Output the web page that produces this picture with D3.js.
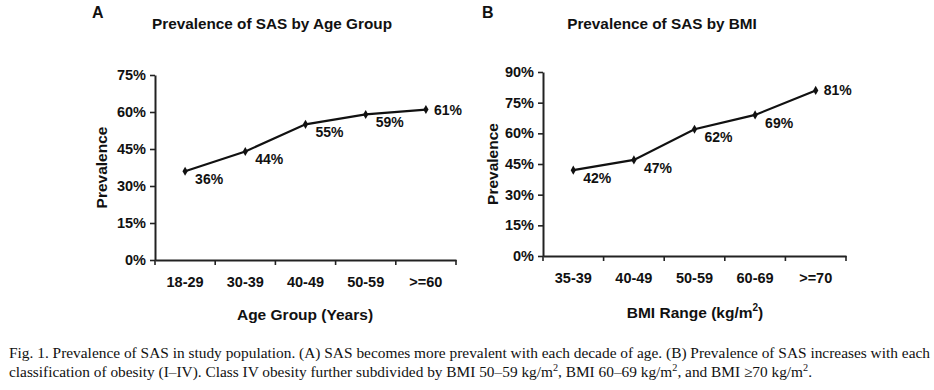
<!DOCTYPE html>
<html><head><meta charset="utf-8">
<script src="https://cdn.jsdelivr.net/npm/d3@7"></script>
<style>
body{margin:0;background:#fff;}
svg text{font-family:"Liberation Sans",Arial,sans-serif;font-weight:bold;fill:#111;}
</style></head>
<body><svg id="c" width="934" height="390"></svg>
<script>
const ageGroups = ["18-29","30-39","40-49","50-59",">=60"];
const ageValues = [36,44,55,59,61];
const ageTicks = [0,15,30,45,60,75];
const bmiGroups = ["35-39","40-49","50-59","60-69",">=70"];
const bmiValues = [42,47,62,69,81];
const bmiTicks = [0,15,30,45,60,75,90];

const svg = d3.select("#c");

function panel(o){
  const g = svg.append("g");
  const x = d3.scaleBand().domain(o.cats).range([o.x0,o.x1]);
  const y = d3.scaleLinear().domain([0,o.ymax]).range([o.y0,o.y1]);
  // y axis
  const ya = g.append("g").attr("transform",`translate(${o.x0},0)`)
    .call(d3.axisLeft(y).tickValues(o.ticks).tickFormat(d=>d+"%").tickSize(5).tickSizeOuter(0).tickPadding(4));
  ya.select(".domain").attr("stroke","#222").attr("stroke-width",2);
  ya.selectAll(".tick line").attr("stroke","#222").attr("stroke-width",1.6);
  ya.selectAll(".tick text").attr("font-size",14.5).attr("font-family","Liberation Sans, Arial, sans-serif").attr("font-weight","bold").attr("fill","#111");
  // x axis
  const xa = g.append("g").attr("transform",`translate(0,${o.y0})`)
    .call(d3.axisBottom(x).tickSize(0).tickPadding(17));
  xa.select(".domain").attr("stroke","#222").attr("stroke-width",2);
  xa.selectAll(".tick text").attr("font-size",14.5).attr("font-family","Liberation Sans, Arial, sans-serif").attr("font-weight","bold").attr("fill","#111");
  // x boundary ticks
  const bounds = o.cats.map(c=>x(c)).concat([x(o.cats[o.cats.length-1])+x.bandwidth()]);
  g.selectAll(".bt").data(bounds).enter().append("line")
    .attr("x1",d=>d).attr("x2",d=>d).attr("y1",o.y0).attr("y2",o.y0+5)
    .attr("stroke","#222").attr("stroke-width",1.6);
  // line
  const pts = o.cats.map((c,i)=>[x(c)+x.bandwidth()/2, y(o.vals[i])]);
  g.append("path").attr("d",d3.line()(pts)).attr("fill","none").attr("stroke","#111").attr("stroke-width",2.2);
  g.selectAll(".m").data(pts).enter().append("path")
    .attr("d",d3.symbol(d3.symbolDiamond,24)())
    .attr("transform",d=>`translate(${d[0]},${d[1]})`).attr("fill","#111");
  // labels
  g.selectAll(".lb").data(pts).enter().append("text")
    .attr("x",(d,i)=>i===pts.length-1? d[0]+8 : d[0]+10)
    .attr("y",(d,i)=>i===pts.length-1? d[1]+5 : d[1]+13)
    .attr("font-size",14).text((d,i)=>o.vals[i]+"%");
  // titles
  g.append("text").attr("x",o.tx).attr("y",o.ty).attr("text-anchor","middle").attr("font-size",15.3).text(o.title);
  g.append("text").attr("x",o.lx).attr("y",18).attr("font-size",16).attr("font-weight","normal").text(o.letter);
  g.append("text").attr("transform",`translate(${o.ytx},${(o.y0+o.y1)/2}) rotate(-90)`).attr("text-anchor","middle").attr("font-size",15.5).text("Prevalence");
  const xt = g.append("text").attr("x",o.xtx).attr("y",o.xty).attr("text-anchor","middle").attr("font-size",15.5);
  o.xtitle(xt);
}

panel({cats:ageGroups, vals:ageValues, ticks:ageTicks, ymax:75,
  x0:155, x1:456, y0:260, y1:75, tx:272, ty:29, lx:92, letter:"A", ytx:107, xty:320, xtx:305,
  title:"Prevalence of SAS by Age Group",
  xtitle:t=>t.text("Age Group (Years)")});
panel({cats:bmiGroups, vals:bmiValues, ticks:bmiTicks, ymax:90,
  x0:543, x1:846, y0:256, y1:72, tx:662, ty:29, lx:482, letter:"B", ytx:498, xty:318, xtx:695,
  title:"Prevalence of SAS by BMI",
  xtitle:t=>{t.append("tspan").text("BMI Range (kg/m"); t.append("tspan").attr("font-size",10).attr("dy",-7).text("2"); t.append("tspan").attr("dy",7).text(")");}});

// caption
const cap = svg.append("g");
cap.append("text").attr("x",9).attr("y",358).attr("font-size",15)
  .style("font-family","Liberation Serif, Times New Roman, serif").style("font-weight","normal")
  .attr("textLength",921).attr("lengthAdjust","spacingAndGlyphs")
  .text("Fig. 1. Prevalence of SAS in study population. (A) SAS becomes more prevalent with each decade of age. (B) Prevalence of SAS increases with each");
const l2 = cap.append("text").attr("x",9).attr("y",377).attr("font-size",15)
  .style("font-family","Liberation Serif, Times New Roman, serif").style("font-weight","normal")
  .attr("textLength",803).attr("lengthAdjust","spacingAndGlyphs");
const parts = [["classification of obesity (I–IV). Class IV obesity further subdivided by BMI 50–59 kg/m",0],["2",1],[", BMI 60–69 kg/m",0],["2",1],[", and BMI ≥70 kg/m",0],["2",1],[".",0]];
let prevSup=false;
parts.forEach(p=>{
  const ts = l2.append("tspan").text(p[0]);
  if(p[1]){ts.attr("font-size",10).attr("dy",-6);prevSup=true;}
  else if(prevSup){ts.attr("dy",6);prevSup=false;}
});
</script></body></html>
